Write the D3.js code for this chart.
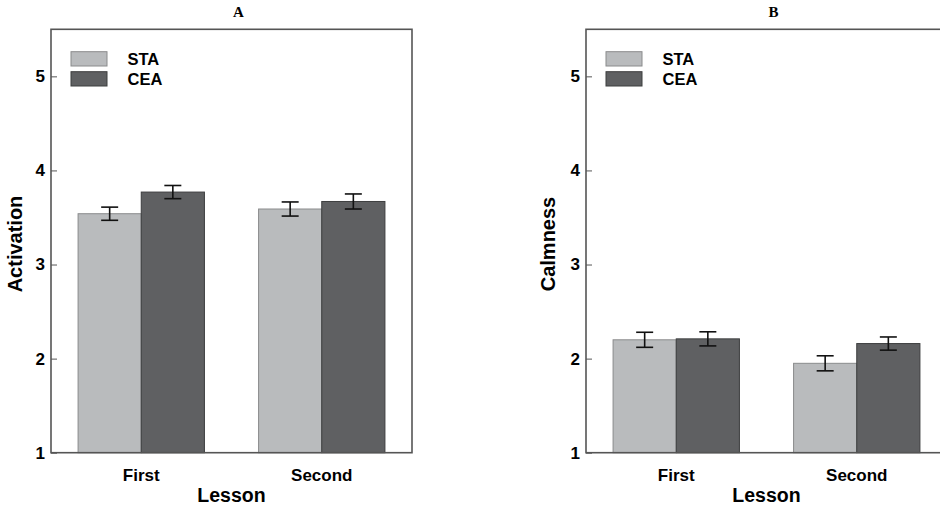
<!DOCTYPE html>
<style>
body { margin: 0; background: #fff; }
.axis .domain { display: none; }
.axis text { font-family: Arial, "Liberation Sans", sans-serif; font-weight: bold; font-size: 17px; fill: #000; }
.axis line { stroke: #555; }
</style>

<svg width="940" height="507"></svg>

<script src="https://d3js.org/d3.v7.min.js"></script>
<script>
'use strict';

var lessons = ["First", "Second"];
var groups = ["STA", "CEA"];
var yTicks = [1, 2, 3, 4, 5];

// panel A - Activation
var activation_mean = [[3.54, 3.77], [3.59, 3.67]];
var activation_err  = [[0.07, 0.07], [0.075, 0.08]];
// panel B - Calmness
var calmness_mean = [[2.20, 2.21], [1.95, 2.16]];
var calmness_err  = [[0.08, 0.075], [0.08, 0.07]];

var panels = [
  {title: "A", ylabel: "Activation", mean: activation_mean, err: activation_err, left: 51, labx: -36},
  {title: "B", ylabel: "Calmness", mean: calmness_mean, err: calmness_err, left: 586, labx: -38}
];

var fills = {STA: "#b9bbbd", CEA: "#5f6062"};
var strokes = {STA: "#8a8b8c", CEA: "#3d3e3f"};

var svg = d3.select("svg"),
    top_ = 29.3,
    width = 361,
    height = 423.4;

var y = d3.scaleLinear().domain([1, 5.5]).range([height, 0]);

var x0 = d3.scaleBand()
    .domain(lessons)
    .range([0, width])
    .paddingInner(0.3)
    .paddingOuter(0.15);

var x1 = d3.scaleBand()
    .domain(groups)
    .range([0, x0.bandwidth()]);

var font = 'Arial, "Liberation Sans", sans-serif';

panels.forEach(function(p) {

  var g = svg.append("g")
      .attr("transform", "translate(" + p.left + "," + top_ + ")");

  g.append("text")
      .attr("x", width / 2 + 7)
      .attr("y", -12)
      .attr("text-anchor", "middle")
      .attr("font-family", '"Liberation Serif", "Times New Roman", serif')
      .attr("font-weight", "bold")
      .attr("font-size", 15)
      .text(p.title);

  // bars
  var rows = p.mean.map(function(vals, i) {
    return groups.map(function(k, j) {
      return {lesson: lessons[i], key: k, value: vals[j], err: p.err[i][j]};
    });
  });

  var bar_g = g.selectAll(".grp")
      .data(rows)
      .enter().append("g")
      .attr("class", "grp")
      .attr("transform", function(d) { return "translate(" + x0(d[0].lesson) + ",0)"; });

  bar_g.selectAll("rect")
      .data(function(d) { return d; })
      .enter().append("rect")
      .attr("x", function(d) { return x1(d.key); })
      .attr("y", function(d) { return y(d.value); })
      .attr("width", x1.bandwidth())
      .attr("height", function(d) { return height - y(d.value); })
      .attr("fill", function(d) { return fills[d.key]; })
      .attr("stroke", function(d) { return strokes[d.key]; })
      .attr("stroke-width", 1);

  // error bars
  var eb = bar_g.selectAll(".eb")
      .data(function(d) { return d; })
      .enter().append("g")
      .attr("class", "eb")
      .attr("stroke", "#111")
      .attr("stroke-width", 1.6)
      .attr("transform", function(d) { return "translate(" + (x1(d.key) + x1.bandwidth() / 2) + ",0)"; });

  eb.append("line")
      .attr("y1", function(d) { return y(d.value + d.err); })
      .attr("y2", function(d) { return y(d.value - d.err); });
  eb.append("line")
      .attr("x1", -8.5).attr("x2", 8.5)
      .attr("y1", function(d) { return y(d.value + d.err); })
      .attr("y2", function(d) { return y(d.value + d.err); });
  eb.append("line")
      .attr("x1", -8.5).attr("x2", 8.5)
      .attr("y1", function(d) { return y(d.value - d.err); })
      .attr("y2", function(d) { return y(d.value - d.err); });

  // axes
  g.append("g")
      .attr("class", "axis")
      .call(d3.axisLeft(y).tickValues(yTicks).tickSize(-6).tickPadding(6).tickFormat(d3.format("d")));

  g.append("g")
      .attr("class", "axis")
      .attr("transform", "translate(0," + height + ")")
      .call(d3.axisBottom(x0).tickSize(0).tickPadding(16));

  // frame
  g.append("rect")
      .attr("width", width)
      .attr("height", height)
      .attr("fill", "none")
      .attr("stroke", "#555")
      .attr("stroke-width", 1.6);

  g.append("text")
      .attr("x", width / 2)
      .attr("y", height + 49)
      .attr("text-anchor", "middle")
      .attr("font-family", font)
      .attr("font-weight", "bold")
      .attr("font-size", 19.5)
      .text("Lesson");

  g.append("text")
      .attr("transform", "translate(" + (p.labx + 7) + "," + (height / 2 + 3) + ") rotate(-90)")
      .attr("text-anchor", "middle")
      .attr("font-family", font)
      .attr("font-weight", "bold")
      .attr("font-size", 20)
      .text(p.ylabel);

  // legend
  var legend = g.append("g")
      .selectAll("g")
      .data(groups)
      .enter().append("g")
      .attr("transform", function(d, i) { return "translate(20," + (22.4 + i * 20) + ")"; });

  legend.append("rect")
      .attr("width", 36)
      .attr("height", 14.3)
      .attr("fill", function(d) { return fills[d]; })
      .attr("stroke", function(d) { return strokes[d]; });

  legend.append("text")
      .attr("x", 56.5)
      .attr("y", 13)
      .attr("font-family", font)
      .attr("font-weight", "bold")
      .attr("font-size", 16.5)
      .text(function(d) { return d; });
});

</script>
